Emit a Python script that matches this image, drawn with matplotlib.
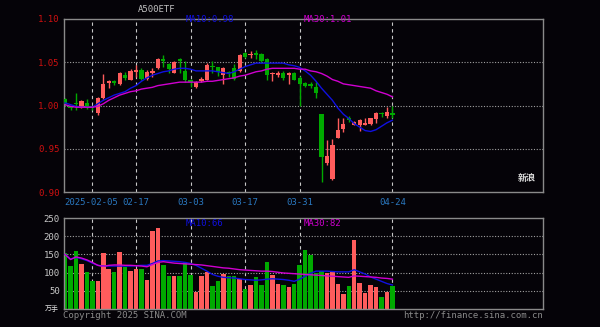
"""Sina-style daily K-line chart with MA10 / MA30 and a volume panel."""

import matplotlib

matplotlib.use("Agg")
import matplotlib.pyplot as plt
import numpy as np

# --- data (61 trading days) ---
opens = [1.008, 0.999, 1.003, 0.998, 1.003, 0.999, 0.991, 1.009, 1.026, 1.028,
         1.025, 1.035, 1.030, 1.039, 1.041, 1.031, 1.037, 1.043, 1.054, 1.048,
         1.038, 1.054, 1.040, 1.030, 1.021, 1.028, 1.030, 1.046, 1.044, 1.035,
         1.038, 1.043, 1.040, 1.061, 1.058, 1.061, 1.060, 1.054, 1.036, 1.035,
         1.038, 1.035, 1.037, 1.032, 1.026, 1.025, 1.021, 0.990, 0.934, 0.915,
         0.963, 0.973, 0.986, 0.978, 0.977, 0.978, 0.979, 0.984, 0.991, 0.988,
         0.991]
closes = [1.002, 0.997, 1.002, 1.005, 0.998, 0.997, 1.009, 1.025, 1.028, 1.026,
          1.037, 1.032, 1.040, 1.041, 1.031, 1.039, 1.040, 1.054, 1.051, 1.042,
          1.050, 1.051, 1.030, 1.027, 1.027, 1.031, 1.047, 1.044, 1.039, 1.043,
          1.037, 1.031, 1.058, 1.056, 1.060, 1.058, 1.051, 1.035, 1.038, 1.038,
          1.032, 1.037, 1.030, 1.025, 1.023, 1.022, 1.014, 0.941, 0.942, 0.954,
          0.972, 0.979, 0.983, 0.981, 0.983, 0.980, 0.985, 0.991, 0.990, 0.992,
          0.989]
highs = [1.009, 1.000, 1.014, 1.006, 1.007, 1.000, 1.010, 1.036, 1.030, 1.029,
         1.039, 1.039, 1.042, 1.047, 1.043, 1.041, 1.043, 1.055, 1.058, 1.049,
         1.051, 1.055, 1.051, 1.031, 1.028, 1.033, 1.049, 1.051, 1.045, 1.044,
         1.040, 1.048, 1.060, 1.062, 1.063, 1.064, 1.061, 1.055, 1.039, 1.040,
         1.040, 1.039, 1.039, 1.034, 1.027, 1.027, 1.027, 0.990, 0.960, 0.961,
         0.985, 0.985, 0.988, 0.982, 0.984, 0.986, 0.986, 0.993, 0.993, 0.998,
         1.000]
lows = [1.000, 0.995, 0.995, 0.997, 0.996, 0.995, 0.989, 1.008, 1.020, 1.024,
        1.024, 1.030, 1.029, 1.033, 1.030, 1.030, 1.033, 1.042, 1.044, 1.037,
        1.037, 1.038, 1.027, 1.021, 1.020, 1.027, 1.029, 1.038, 1.034, 1.025,
        1.033, 1.030, 1.039, 1.055, 1.055, 1.054, 1.049, 1.029, 1.028, 1.033,
        1.030, 1.025, 1.029, 1.000, 1.021, 1.020, 1.009, 0.911, 0.931, 0.914,
        0.962, 0.969, 0.981, 0.977, 0.970, 0.977, 0.978, 0.980, 0.987, 0.986,
        0.986]
ma10 = [1.003, 1.001, 0.999, 0.998, 0.998, 0.998, 1.002, 1.006, 1.009, 1.012,
        1.014, 1.016, 1.020, 1.023, 1.028, 1.032, 1.035, 1.037, 1.039, 1.040,
        1.042, 1.043, 1.043, 1.042, 1.040, 1.040, 1.040, 1.040, 1.039, 1.038,
        1.037, 1.039, 1.042, 1.045, 1.047, 1.049, 1.049, 1.049, 1.049, 1.049,
        1.049, 1.047, 1.046, 1.044, 1.040, 1.035, 1.028, 1.020, 1.013, 1.006,
        0.997, 0.990, 0.985, 0.979, 0.975, 0.971, 0.970, 0.972, 0.976, 0.980,
        0.983]
ma30 = [1.001, 0.999, 0.998, 0.998, 0.998, 0.998, 0.999, 1.002, 1.006, 1.009,
        1.012, 1.014, 1.016, 1.017, 1.019, 1.020, 1.021, 1.023, 1.024, 1.025,
        1.026, 1.027, 1.027, 1.027, 1.027, 1.027, 1.028, 1.028, 1.029, 1.030,
        1.031, 1.032, 1.034, 1.035, 1.037, 1.039, 1.040, 1.042, 1.043, 1.043,
        1.043, 1.043, 1.043, 1.042, 1.042, 1.040, 1.039, 1.037, 1.034, 1.030,
        1.028, 1.025, 1.024, 1.023, 1.022, 1.021, 1.020, 1.017, 1.015, 1.013,
        1.010]
volumes = [155, 118, 160, 125, 103, 76, 76, 153, 110, 103,
           156, 116, 105, 109, 109, 81, 215, 222, 121, 91,
           91, 91, 128, 93, 46, 91, 103, 63, 77, 96,
           91, 91, 82, 54, 66, 87, 66, 128, 93, 69,
           66, 61, 69, 121, 162, 148, 98, 105, 98, 105,
           69, 41, 63, 190, 71, 43, 66, 61, 32, 48,
           63]
vol_ma10 = [150, 137, 142, 138, 133, 126, 120, 118, 118, 118,
            118, 118, 118, 119, 120, 120, 125, 132, 133, 132,
            131, 130, 128, 125, 120, 112, 104, 95, 90, 87,
            86, 85, 83, 81, 80, 79, 80, 82, 83, 82,
            81, 79, 76, 82, 90, 98, 104, 104, 104, 103,
            102, 102, 102, 108, 102, 96, 88, 82, 76, 70,
            66]
vol_ma30 = [150, 136, 143, 140, 135, 128, 120, 117, 120, 121,
            121, 120, 120, 119, 118, 116, 122, 128, 130, 128,
            126, 125, 124, 123, 122, 121, 119, 117, 115, 113,
            112, 110, 108, 107, 106, 105, 104, 104, 103, 101,
            99, 98, 97, 96, 95, 94, 93, 92, 91, 90,
            89, 88, 87, 91, 90, 89, 88, 87, 85, 84,
            82]
tick_idx = [5, 13, 23, 33, 43, 60]
tick_labels = ["2025-02-05", "02-17", "03-03", "03-17", "03-31", "04-24"]
price_ticks = [0.90, 0.95, 1.00, 1.05, 1.10]
vol_ticks = [50, 100, 150, 200, 250]

BG = "#050308"
UP = "#ff5c5c"
DOWN = "#00aa00"
BLUE = "#1010e0"
MAGENTA = "#d000d0"
FRAME = "#8a8a8a"
MONO = "DejaVu Sans Mono"
FS = 6.5
W, H = 600, 327


def px(x, y):
    return x / W, 1 - y / H


o = np.asarray(opens)
c = np.asarray(closes)
x = np.arange(len(o))
up = c >= o
colors = np.where(up, UP, DOWN)
xlim = (-0.2, 87.6)

fig = plt.figure(figsize=(6.0, 3.27), dpi=100, facecolor=BG)
ax = fig.add_axes([64 / W, 1 - 192 / H, 479 / W, 173 / H], facecolor=BG)
axv = fig.add_axes([64 / W, 1 - 309 / H, 479 / W, 91 / H], facecolor=BG)

for a in (ax, axv):
    for s in a.spines.values():
        s.set_color(FRAME)
        s.set_linewidth(1.0)
    a.set_xlim(*xlim)
    a.set_xticks([])
    a.tick_params(axis="y", length=0, pad=3)
    for t in tick_idx:
        a.axvline(t, color="#c8c8c8", lw=0.8, ls=(0, (3, 3)), zorder=1)

# price panel
for lvl in price_ticks[1:-1]:
    ax.axhline(lvl, color="#a0a0a0", lw=0.8, ls=(0, (1, 1.5)), zorder=1)
ax.vlines(x, lows, highs, colors=colors, lw=1.0, zorder=2)
body = np.maximum(np.abs(c - o), 0.0012)
ax.bar(x, body, bottom=np.minimum(o, c), width=0.78, color=colors, zorder=3)
ax.plot(x, ma10, color=BLUE, lw=1.0, zorder=4)
ax.plot(x, ma30, color=MAGENTA, lw=1.0, zorder=4)
ax.set_ylim(0.90, 1.10)
ax.set_yticks(price_ticks)
ax.set_yticklabels([f"{v:.2f}" for v in price_ticks], color="#d01010",
                   fontsize=FS, family=MONO)

# volume panel
for lvl in vol_ticks[:-1]:
    axv.axhline(lvl, color="#a0a0a0", lw=0.8, ls=(0, (1, 1.5)), zorder=1)
axv.bar(x, volumes, width=0.82, color=colors, zorder=2)
axv.plot(x, vol_ma10, color=BLUE, lw=1.0, zorder=3)
axv.plot(x, vol_ma30, color=MAGENTA, lw=1.0, zorder=3)
axv.set_ylim(0, 250)
axv.set_yticks(vol_ticks)
axv.set_yticklabels([str(v) for v in vol_ticks], color="#c8c8c8",
                    fontsize=FS, family=MONO)

# date labels
for i, (t, lab) in enumerate(zip(tick_idx, tick_labels)):
    ha = "left" if i == 0 else "center"
    xpos = xlim[0] if i == 0 else t
    ax.annotate(lab, (xpos, 0.90), xytext=(0, -4), textcoords="offset points",
                ha=ha, va="top", color="#2a78c0", fontsize=FS, family=MONO,
                annotation_clip=False)

# legends / captions
fig.text(*px(186, 20), f"MA10:{ma10[-1]:.2f}", color=BLUE, fontsize=FS,
         family=MONO, va="center")
fig.text(*px(304, 20), f"MA30:{ma30[-1]:.2f}", color=MAGENTA, fontsize=FS,
         family=MONO, va="center")
fig.text(*px(186, 224), f"MA10:{vol_ma10[-1]}", color=BLUE, fontsize=FS,
         family=MONO, va="center")
fig.text(*px(304, 224), f"MA30:{vol_ma30[-1]}", color=MAGENTA, fontsize=FS,
         family=MONO, va="center")
fig.text(*px(138, 10), "A500ETF", color="#c0c0c0", fontsize=FS,
         family=MONO, va="center")
fig.text(*px(45, 309), "万手", color="#e0e0e0", fontsize=5,
         family=["Noto Sans CJK SC", "DejaVu Sans"], va="center")
fig.text(*px(527, 179), "新浪", color="#d8d8d8", fontsize=6.5, weight="bold",
         family=["Noto Sans CJK SC", "DejaVu Sans"], va="center", ha="center")
fig.text(*px(63, 315), "Copyright 2025 SINA.COM", color="#8a8a8a",
         fontsize=FS, family=MONO, va="center")
fig.text(*px(543, 315), "http://finance.sina.com.cn", color="#8a8a8a",
         fontsize=FS, family=MONO, va="center", ha="right")

fig.savefig("out.png", dpi=100, facecolor=BG)
